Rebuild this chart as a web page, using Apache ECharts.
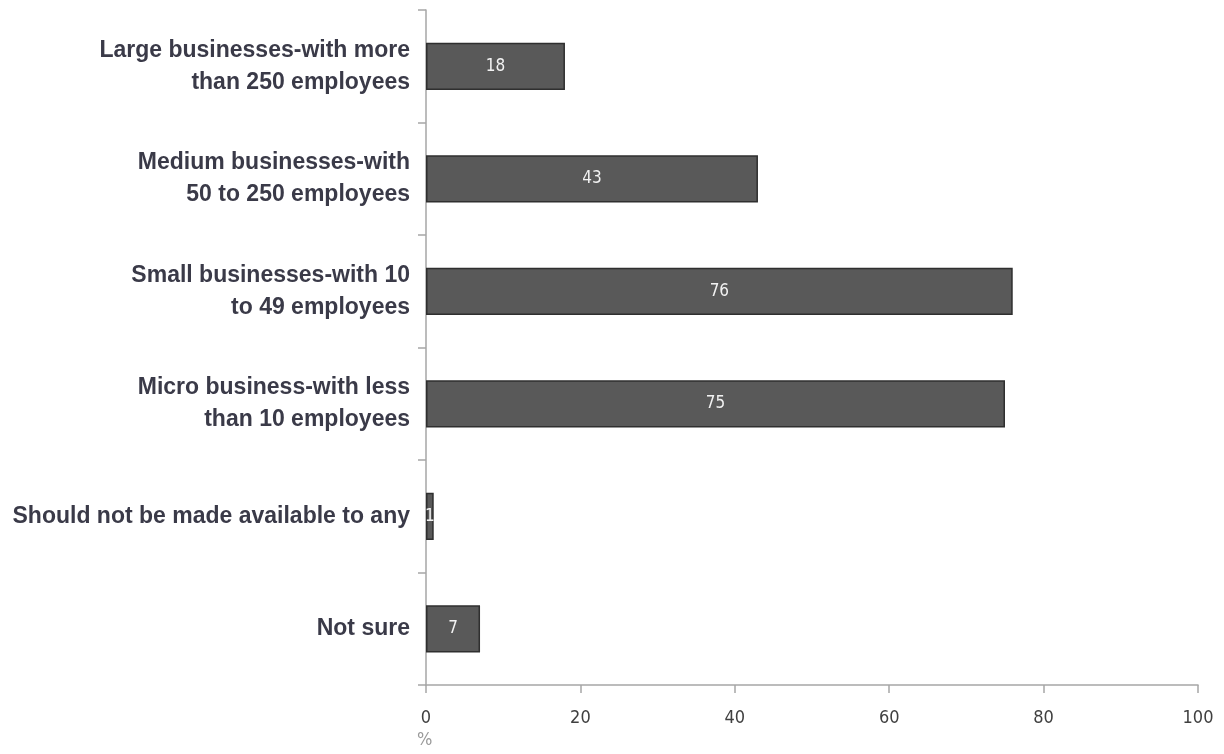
<!DOCTYPE html>
<html>
<head>
<meta charset="utf-8">
<style>html,body{margin:0;padding:0;background:#fff}#c{width:1224px;height:754px}</style>
<script src="https://cdn.jsdelivr.net/npm/echarts@6/dist/echarts.min.js"></script>
</head>
<body>
<div id="c"></div>
<script>
const categories = [
  "Large businesses-with more\nthan 250 employees",
  "Medium businesses-with\n50 to 250 employees",
  "Small businesses-with 10\nto 49 employees",
  "Micro business-with less\nthan 10 employees",
  "Should not be made available to any",
  "Not sure"
];
const values = [18, 43, 76, 75, 1, 7];
const xTicks = [0, 20, 40, 60, 80, 100];

const chart = echarts.init(document.getElementById('c'));
chart.setOption({
  animation: false,
  grid: { left: 426, right: 26, top: 10, bottom: 69, containLabel: false },
  xAxis: {
    type: 'value', min: xTicks[0], max: xTicks[xTicks.length - 1], interval: 20,
    axisLine: { show: true, lineStyle: { color: '#a6a6a6', width: 1.5 } },
    axisTick: { show: true, length: 8, lineStyle: { color: '#a6a6a6', width: 1.5 } },
    splitLine: { show: false },
    axisLabel: { margin: 24, color: '#404040', fontSize: 18, fontFamily: 'DejaVu Sans Condensed, sans-serif' }
  },
  yAxis: {
    type: 'category', data: categories, inverse: true,
    axisLine: { show: true, onZero: false, lineStyle: { color: '#a6a6a6', width: 1.5 } },
    axisTick: { show: true, length: 8, alignWithLabel: false, lineStyle: { color: '#a6a6a6', width: 1.5 } },
    axisLabel: {
      margin: 16, color: '#3a3a48', fontSize: 23, fontWeight: 'bold', lineHeight: 32,
      fontFamily: 'Liberation Sans Narrow, Arial Narrow, Liberation Sans, sans-serif', align: 'right'
    }
  },
  graphic: [{
    type: 'text', left: 417, top: 731,
    style: { text: '%', fill: '#9a9a9a', font: '18px DejaVu Sans Condensed, sans-serif' }
  }],
  series: [{
    type: 'bar', data: values, barWidth: '42%',
    itemStyle: { color: '#595959', borderColor: '#2f2f2f', borderWidth: 1.5 },
    label: {
      show: true, position: 'inside', color: '#f2f2f2', fontSize: 17,
      fontFamily: 'DejaVu Sans Condensed, sans-serif'
    }
  }]
});
</script>
</body>
</html>
